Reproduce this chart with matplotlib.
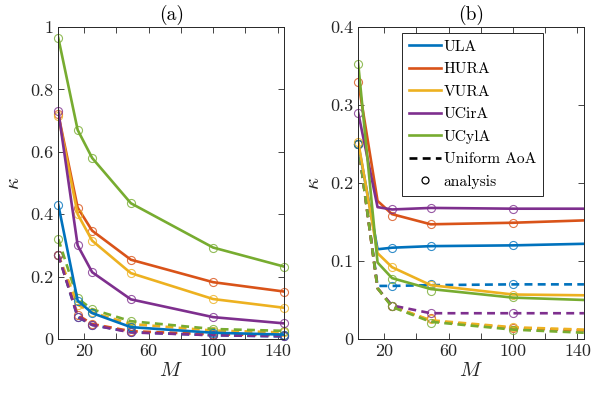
import numpy as np
import matplotlib
matplotlib.use("Agg")
import matplotlib.pyplot as plt
from matplotlib.ticker import FixedLocator, FuncFormatter
from matplotlib.lines import Line2D

# array sizes M and analysis points
M = [4, 16, 25, 49, 100, 144]
M_an_b = [4, 25, 49, 100]

names = ["ULA", "HURA", "VURA", "UCirA", "UCylA"]
colors = ["#0072BD", "#D95319", "#EDB120", "#7E2F8E", "#77AC30"]

# (a) simulation, solid
ula_a = [0.43, 0.123, 0.083, 0.038, 0.020, 0.014]
hura_a = [0.72, 0.421, 0.347, 0.254, 0.182, 0.152]
vura_a = [0.715, 0.400, 0.315, 0.211, 0.128, 0.100]
ucira_a = [0.73, 0.300, 0.214, 0.127, 0.070, 0.050]
ucyla_a = [0.965, 0.670, 0.580, 0.435, 0.293, 0.232]

# (a) uniform AoA, dashed
ula_u_a = [0.27, 0.070, 0.045, 0.022, 0.012, 0.008]
hura_u_a = [0.27, 0.077, 0.048, 0.025, 0.015, 0.012]
vura_u_a = [0.27, 0.110, 0.085, 0.048, 0.027, 0.021]
ucira_u_a = [0.27, 0.072, 0.045, 0.021, 0.012, 0.009]
ucyla_u_a = [0.32, 0.130, 0.095, 0.057, 0.032, 0.026]

# (b) simulation, solid
ula_b = [0.25, 0.115, 0.117, 0.119, 0.120, 0.122]
hura_b = [0.33, 0.177, 0.160, 0.147, 0.149, 0.152]
vura_b = [0.253, 0.110, 0.092, 0.069, 0.057, 0.056]
ucira_b = [0.29, 0.169, 0.166, 0.168, 0.167, 0.167]
ucyla_b = [0.353, 0.098, 0.078, 0.064, 0.053, 0.050]

# (b) uniform AoA, dashed
ula_u_b = [0.25, 0.068, 0.068, 0.069, 0.070, 0.070]
hura_u_b = [0.25, 0.065, 0.042, 0.023, 0.014, 0.011]
vura_u_b = [0.25, 0.065, 0.042, 0.024, 0.015, 0.012]
ucira_u_b = [0.25, 0.065, 0.043, 0.033, 0.033, 0.033]
ucyla_u_b = [0.25, 0.065, 0.041, 0.022, 0.012, 0.008]

# (b) analysis circles
ula_an_b = [0.25, 0.117, 0.119, 0.120]
hura_an_b = [0.33, 0.157, 0.147, 0.149]
vura_an_b = [0.253, 0.092, 0.069, 0.056]
ucira_an_b = [0.29, 0.166, 0.168, 0.167]
ucyla_an_b = [0.353, 0.077, 0.062, 0.054]
ula_uan_b = [0.25, 0.068, 0.070, 0.070]
hura_uan_b = [0.25, 0.042, 0.027, 0.014]
vura_uan_b = [0.25, 0.042, 0.025, 0.015]
ucira_uan_b = [0.25, 0.042, 0.033, 0.033]
ucyla_uan_b = [0.25, 0.042, 0.021, 0.012]

plt.rcParams['font.family'] = 'serif'
plt.rcParams['font.serif'] = ['cmr10']
plt.rcParams['mathtext.fontset'] = 'cm'
plt.rcParams['axes.unicode_minus'] = False
plt.rcParams['font.size'] = 13

dark = "#262626"
lw = 1.9
ms = 5.8

fig = plt.figure(figsize=(5.98, 3.96), dpi=100)
ax1 = fig.add_axes([0.0975, 0.144, 0.3775, 0.788])
ax2 = fig.add_axes([0.599, 0.144, 0.3775, 0.788])

sim_a = [ula_a, hura_a, vura_a, ucira_a, ucyla_a]
uni_a = [ula_u_a, hura_u_a, vura_u_a, ucira_u_a, ucyla_u_a]
sim_b = [ula_b, hura_b, vura_b, ucira_b, ucyla_b]
uni_b = [ula_u_b, hura_u_b, vura_u_b, ucira_u_b, ucyla_u_b]
an_b = [ula_an_b, hura_an_b, vura_an_b, ucira_an_b, ucyla_an_b]
uan_b = [ula_uan_b, hura_uan_b, vura_uan_b, ucira_uan_b, ucyla_uan_b]

def circles(ax, x, y, c):
    ax.plot(x, y, ls='none', marker='o', ms=ms, mfc='none', mec=c, mew=0.8, alpha=0.8, clip_on=False)

for i in range(5):
    ax1.plot(M, uni_a[i], color=colors[i], lw=lw, ls='--', dashes=(3, 2))
    circles(ax1, M, uni_a[i], colors[i])
for i in range(5):
    ax1.plot(M, sim_a[i], color=colors[i], lw=lw)
    circles(ax1, M, sim_a[i], colors[i])

for i in range(5):
    ax2.plot(M, uni_b[i], color=colors[i], lw=lw, ls='--', dashes=(3, 2))
    circles(ax2, M_an_b, uan_b[i], colors[i])
for i in range(5):
    ax2.plot(M, sim_b[i], color=colors[i], lw=lw)
    circles(ax2, M_an_b, an_b[i], colors[i])

fmt = FuncFormatter(lambda v, p: "%g" % round(v, 3))
for ax, ymax, ystep, title in [(ax1, 1.0, 0.2, "(a)"), (ax2, 0.4, 0.1, "(b)")]:
    ax.set_xlim(4, 144)
    ax.set_ylim(0, ymax)
    ax.xaxis.set_major_locator(FixedLocator([20, 60, 100, 140]))
    ax.xaxis.set_minor_locator(FixedLocator([40, 80, 120]))
    ax.set_yticks(np.arange(0, ymax + 1e-9, ystep))
    ax.yaxis.set_major_formatter(fmt)
    ax.tick_params(which='both', direction='in', top=True, right=True, colors=dark, labelsize=13)
    ax.tick_params(which='major', length=4, width=0.6)
    ax.tick_params(which='minor', length=4, width=0.6)
    for s in ax.spines.values():
        s.set_color(dark)
        s.set_linewidth(0.7)
    ax.set_xlabel(r"$M$", fontsize=15, color=dark, labelpad=2)
    ax.set_ylabel(r"$\kappa$", fontsize=15, color=dark, labelpad=5)
    ax.set_title(title, fontsize=14, color='black', pad=5)

handles = [Line2D([], [], color=c, lw=lw) for c in colors]
handles.append(Line2D([], [], color='black', lw=lw, ls='--', dashes=(3, 2)))
handles.append(Line2D([], [], color='black', ls='none', marker='o', ms=5, mfc='none', mew=0.9))
leg = ax2.legend(handles, names + ["Uniform AoA", "analysis"], loc='upper right',
                 bbox_to_anchor=(0.818, 0.981), borderaxespad=0, fancybox=False,
                 framealpha=1, edgecolor=dark, fontsize=11.2, handlelength=2.0,
                 handletextpad=0.2, labelspacing=0.55, borderpad=0.45)
leg.get_frame().set_linewidth(0.7)

fig.savefig("out.png", dpi=100)
